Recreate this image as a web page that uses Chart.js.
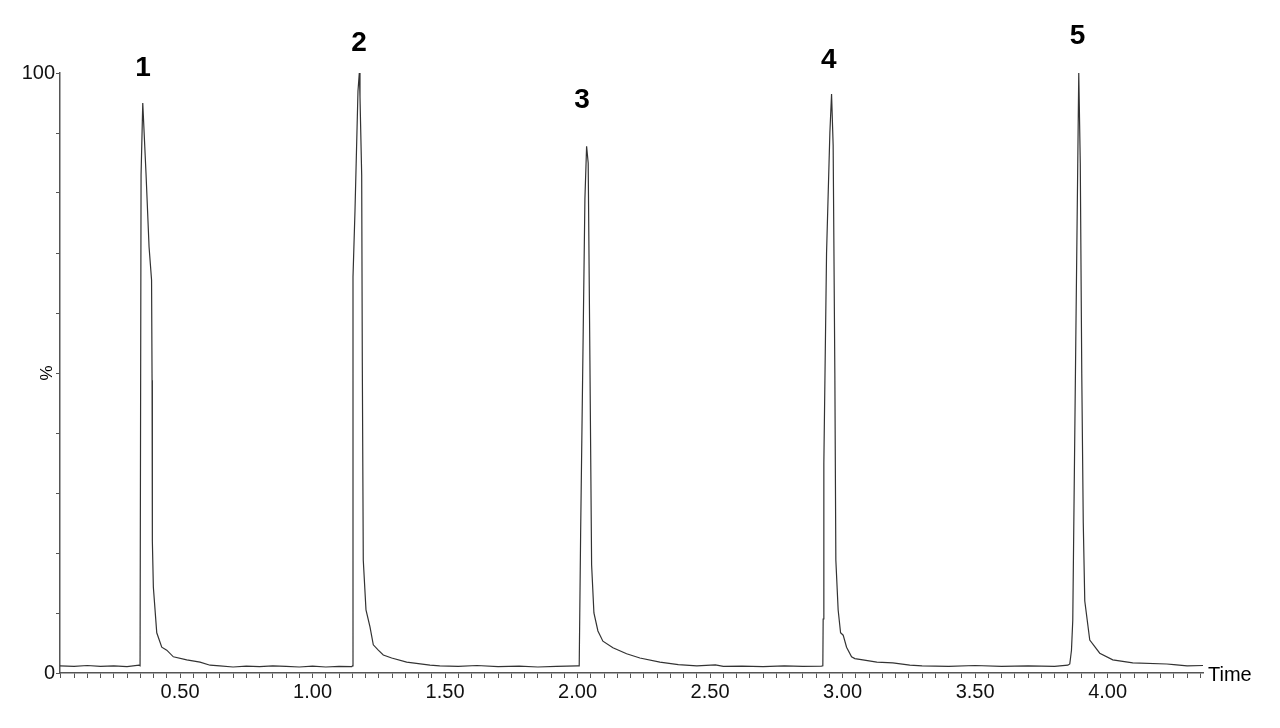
<!DOCTYPE html>
<html>
<head>
<meta charset="utf-8">
<script src="https://cdn.jsdelivr.net/npm/chart.js@4.4.1/dist/chart.umd.min.js"></script>
<style>
  html, body { margin: 0; padding: 0; background: #fff; }
  #wrap { width: 1280px; height: 728px; }
</style>
</head>
<body>
<div id="wrap"><canvas id="chrom" width="1280" height="728"></canvas></div>
<script>
// retention time (min) and relative intensity (%)
let times = [
  0.047, 0.10, 0.15, 0.20, 0.25, 0.30, 0.345, 0.3491,
  0.3529, 0.3593, 0.3718, 0.3831, 0.3925, 0.3944, 0.3955, 0.3993, 0.4121, 0.4310, 0.4498, 0.4747, 0.5253, 0.5754, 0.6132,
  0.65, 0.70, 0.75, 0.80, 0.85, 0.90, 0.95, 1.00, 1.05, 1.10, 1.148, 1.1507,
  1.1526, 1.1601, 1.1714, 1.1764, 1.1790, 1.1854, 1.1877, 1.1914, 1.2016, 1.2167, 1.2292, 1.2480, 1.2669, 1.2986, 1.3552, 1.4431,
  1.48, 1.55, 1.62, 1.70, 1.78, 1.85, 1.92, 2.00, 2.0062,
  2.0115, 2.0213, 2.0277, 2.0341, 2.0401, 2.0466, 2.0530, 2.0617, 2.0768, 2.0956, 2.1334, 2.1851, 2.2352, 2.3107, 2.38,
  2.45, 2.52, 2.55, 2.62, 2.70, 2.78, 2.85, 2.92, 2.9255,
  2.9267, 2.9293, 2.9395, 2.9520, 2.9584, 2.9644, 2.9708, 2.9746, 2.9833, 2.9924, 3.0022, 3.0150, 3.0339, 3.0462, 3.0764, 3.1292, 3.1896, 3.2537,
  3.30, 3.40, 3.50, 3.60, 3.70, 3.80, 3.85, 3.8573,
  3.8637, 3.8686, 3.8799, 3.8912, 3.8969, 3.9025, 3.9082, 3.9139, 3.9327, 3.9704, 4.0195, 4.0949, 4.2232,
  4.25, 4.30, 4.36
];
let intensity = [
  1.2, 1.1, 1.25, 1.1, 1.2, 1.05, 1.3, 1.2,
  83, 95, 83, 71, 65.5, 48.8, 22, 14.3, 6.7, 4.3, 3.8, 2.7, 2.2, 1.8, 1.3,
  1.2, 1.0, 1.15, 1.05, 1.2, 1.1, 1.0, 1.15, 1.0, 1.1, 1.05, 1.2,
  66, 77, 97, 100, 96, 83, 52, 18.8, 10.5, 7.7, 4.7, 3.8, 3.0, 2.5, 1.8, 1.3,
  1.2, 1.1, 1.25, 1.05, 1.15, 1.0, 1.1, 1.2, 1.2,
  23, 57, 79, 87.8, 85, 52, 18, 10, 7, 5.3, 4.2, 3.2, 2.5, 1.8, 1.4,
  1.2, 1.35, 1.1, 1.15, 1.05, 1.2, 1.1, 1.15, 1.2,
  9, 35, 70, 90, 96.5, 88, 50, 18.8, 10.5, 6.7, 6.3, 4.3, 2.7, 2.4, 2.2, 1.8, 1.7, 1.3,
  1.2, 1.1, 1.25, 1.1, 1.2, 1.1, 1.3, 1.5,
  3.8, 8.8, 55, 100, 85, 50, 25, 12, 5.5, 3.3, 2.2, 1.7, 1.5,
  1.4, 1.2, 1.25
];

// peak numbers and where they sit (time, % level)
let peakNames = ['1', '2', '3', '4', '5'];
let peakLabelTimes = [0.3605, 1.175, 2.0164, 2.948, 3.887];
let peakLabelLevels = [100.8, 105, 95.5, 102.2, 106.2];

// axis
let xMin = 0.047;
let xMax = 4.36;
let yLabelled = [0, 100];

let points = [];
for(i = 0; i < times.length; i++) {
  points.push({x: times[i], y: intensity[i]});
}

const textPlugin = {
  id: 'chromText',
  afterDraw(chart) {
    let ctx = chart.ctx;
    let xs = chart.scales.x;
    let ys = chart.scales.y;
    ctx.save();
    ctx.fillStyle = '#000';
    ctx.font = 'bold 28px "Liberation Sans", Arial, sans-serif';
    ctx.textAlign = 'center';
    ctx.textBaseline = 'middle';
    for(p = 0; p < peakNames.length; p++) {
      ctx.fillText(peakNames[p], xs.getPixelForValue(peakLabelTimes[p]), ys.getPixelForValue(peakLabelLevels[p]));
    }
    // axis names
    ctx.font = '20px "Liberation Sans", Arial, sans-serif';
    ctx.textAlign = 'left';
    ctx.fillText('Time', chart.chartArea.right + 5, ys.getPixelForValue(0) + 2);
    ctx.font = '17px "Liberation Sans", Arial, sans-serif';
    ctx.translate(chart.chartArea.left - 13, ys.getPixelForValue(50));
    ctx.rotate(-Math.PI / 2);
    ctx.textAlign = 'center';
    ctx.fillText('%', 0, 0);
    ctx.restore();
  }
};

new Chart(document.getElementById('chrom'), {
  type: 'line',
  data: {
    datasets: [{
      data: points,
      borderColor: '#333333',
      borderWidth: 1.2,
      pointRadius: 0,
      tension: 0,
      fill: false
    }]
  },
  options: {
    responsive: false,
    animation: false,
    layout: { padding: { top: 73, right: 77, left: 0, bottom: 0 } },
    plugins: { legend: { display: false }, tooltip: { enabled: false } },
    scales: {
      x: {
        type: 'linear',
        min: xMin,
        max: xMax,
        afterFit: function(scale) { scale.height = 55; },
        border: { color: '#555', width: 1.5 },
        grid: { drawOnChartArea: false, drawTicks: true, tickLength: 5, color: '#555' },
        ticks: {
          stepSize: 0.05,
          includeBounds: false,
          autoSkip: false,
          maxRotation: 0,
          padding: 2,
          color: '#111',
          font: { family: '"Liberation Sans", Arial, sans-serif', size: 20 },
          callback: function(v) {
            if(Math.abs(v * 2 - Math.round(v * 2)) < 1e-6) {
              return v.toFixed(2);
            }
            return '';
          }
        }
      },
      y: {
        min: 0,
        max: 100,
        afterFit: function(scale) { scale.width = 60; },
        border: { color: '#555', width: 1.5 },
        grid: { drawOnChartArea: false, drawTicks: true, tickLength: 4, color: '#555' },
        ticks: {
          stepSize: 10,
          padding: 1,
          color: '#111',
          font: { family: '"Liberation Sans", Arial, sans-serif', size: 20 },
          callback: function(v) {
            return yLabelled.indexOf(v) >= 0 ? String(v) : '';
          }
        }
      }
    }
  },
  plugins: [textPlugin]
});
</script>
</body>
</html>
